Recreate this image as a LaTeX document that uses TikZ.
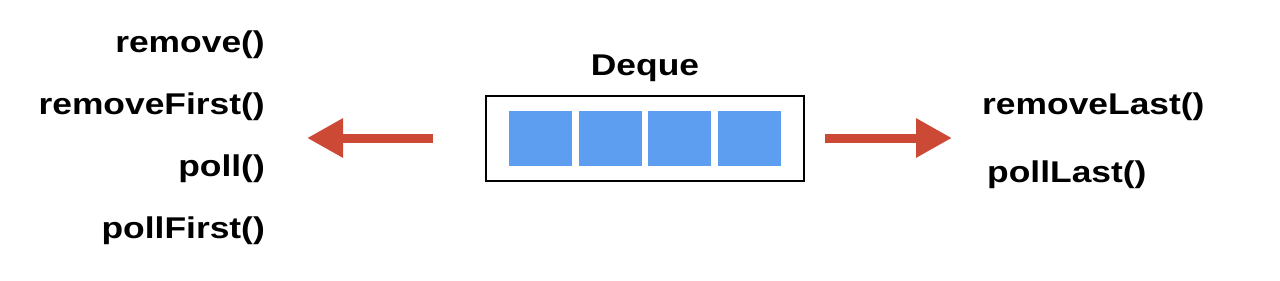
\documentclass[tikz,border=0pt]{standalone}
\usepackage{fontspec}
\setmainfont{Liberation Sans}
\usetikzlibrary{arrows.meta}
\definecolor{cellblue}{HTML}{5E9EF0}
\definecolor{arrowred}{HTML}{CC4A35}
\tikzset{
  lbl/.style={inner sep=0pt, font=\fontsize{30}{32}\selectfont\bfseries},
  cell/.style={fill=cellblue, draw=none, minimum width=63pt, minimum height=55pt, inner sep=0pt},
  frame/.style={draw=black, line width=2.4pt, minimum width=318pt, minimum height=85pt, inner sep=0pt},
  bigarrow/.style={draw=arrowred, line width=9pt, -{Triangle[length=36pt,width=37pt]}, fill=arrowred}
}
\newcommand{\wide}[1]{\scalebox{1.18}[1]{#1}}
\begin{document}
\begin{tikzpicture}[x=1pt,y=-1pt]
\useasboundingbox (0,0) rectangle (1280,281);
\node[frame] (box) at (645,138.5) {};
\node[cell] (c1) at (540.5,138.5) {};
\node[cell] (c2) at (610,138.5) {};
\node[cell] (c3) at (679.5,138.5) {};
\node[cell] (c4) at (749.5,138.5) {};
\node[lbl] (title) at (645,68) {\wide{Deque}};
\node[lbl, anchor=east] (l1) at (265,45) {\wide{remove()}};
\node[lbl, anchor=east] (l2) at (265,107) {\wide{removeFirst()}};
\node[lbl, anchor=east] (l3) at (265,169) {\wide{poll()}};
\node[lbl, anchor=east] (l4) at (265,231) {\wide{pollFirst()}};
\node[lbl, anchor=west] (r1) at (982,107) {\wide{removeLast()}};
\node[lbl, anchor=west] (r2) at (987,175) {\wide{pollLast()}};
\coordinate (la) at (433,138);
\coordinate (lb) at (307,138);
\coordinate (ra) at (825,138);
\coordinate (rb) at (952,138);
\draw[bigarrow] (la) -- (lb);
\draw[bigarrow] (ra) -- (rb);
\end{tikzpicture}
\end{document}
